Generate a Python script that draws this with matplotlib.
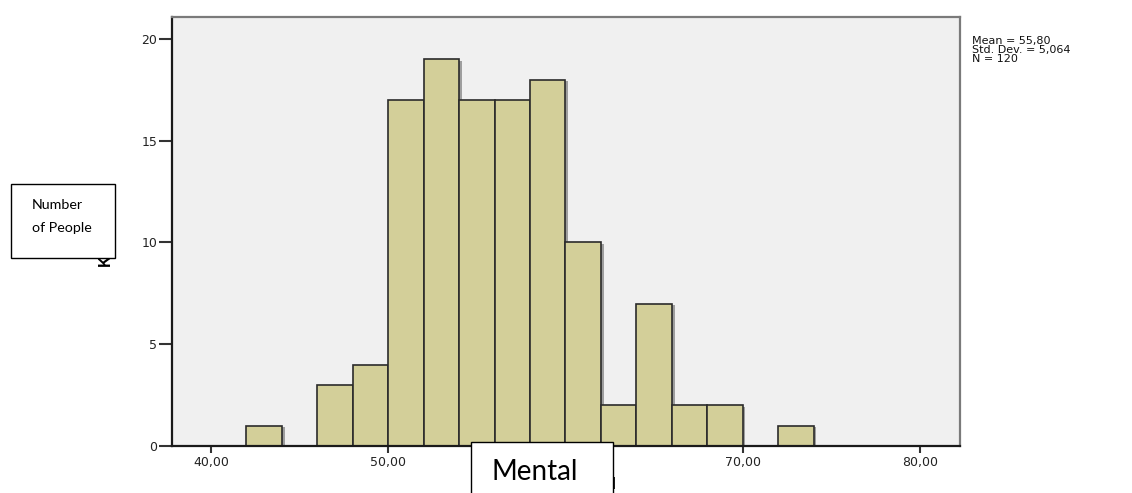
import matplotlib
matplotlib.use("Agg")
import numpy as np
import matplotlib.pyplot as plt
import matplotlib.patheffects as pe
from matplotlib.patches import Rectangle

# histogram bins (width 2) and counts per bin
bin_edges = [42, 44, 46, 48, 50, 52, 54, 56, 58, 60, 62, 64, 66, 68, 70, 72, 74]
counts = [1, 0, 3, 4, 17, 19, 17, 17, 18, 10, 2, 7, 2, 2, 0, 1]

x_ticks = [40, 50, 60, 70, 80]
x_tick_labels = ["40,00", "50,00", "60,00", "70,00", "80,00"]
y_ticks = [0, 5, 10, 15, 20]

stats_text = "Mean = 55,80\nStd. Dev. = 5,064\nN = 120"

W, H = 1132, 493
fig = plt.figure(figsize=(W / 100, H / 100), dpi=100)
fig.patch.set_facecolor("white")

def px(x, y):
    # pixel position (from top-left) -> figure fraction
    return x / W, 1 - y / H

ax = fig.add_axes([172 / W, (H - 446) / H, (960 - 172) / W, (446 - 17) / H])
ax.set_facecolor("#f0f0f0")

left = np.array(bin_edges[:-1], dtype=float)
widths = np.diff(bin_edges)
heights = np.array(counts, dtype=float)
keep = heights > 0
shadow = [pe.SimplePatchShadow(offset=(2, -1), shadow_rgbFace="0.3", alpha=0.5), pe.Normal()]
ax.bar(left[keep], heights[keep], width=widths[keep], align="edge",
       color="#d3cf99", edgecolor="#2b2b2b", linewidth=1.2,
       path_effects=shadow, zorder=2)

ax.set_xlim(37.8, 82.26)
ax.set_ylim(0, 21.08)
ax.set_xticks(x_ticks)
ax.set_xticklabels(x_tick_labels)
ax.set_yticks(y_ticks)

for s in ["left", "bottom"]:
    ax.spines[s].set_color("#1a1a1a")
    ax.spines[s].set_linewidth(1.6)
for s in ["top", "right"]:
    ax.spines[s].set_color("#7a7a7a")
    ax.spines[s].set_linewidth(1.6)

ax.tick_params(axis="x", direction="out", length=5, width=1.5, color="#333333",
               labelsize=9, labelcolor="#222222", pad=2)
ax.tick_params(axis="y", direction="out", length=9.5, width=1.5, color="#333333",
               labelsize=9, labelcolor="#222222", pad=1)
for lab in ax.get_xticklabels() + ax.get_yticklabels():
    lab.set_family("DejaVu Sans")

# axis titles (mostly covered by the text boxes below)
fig.text(*px(114, 267), "Kişi Sayısı", rotation=90, ha="right", va="bottom",
         family="Liberation Sans", fontweight="bold", fontsize=11.5, zorder=2)
fig.text(*px(617, 489), "Mental", ha="right", va="baseline",
         family="Liberation Sans", fontweight="bold", fontsize=11.5, zorder=2)

fig.text(*px(972, 36), stats_text, ha="left", va="top", family="DejaVu Sans",
         fontsize=8, linespacing=0.88, color="#111111")

# white annotation boxes
x0, y1 = px(11, 258)
x1, y0 = px(115, 184)
fig.add_artist(Rectangle((x0, y1), x1 - x0, y0 - y1, transform=fig.transFigure,
                         facecolor="white", edgecolor="black", linewidth=1, zorder=5))
fig.text(*px(32, 205), "Number", ha="left", va="center", family="Lato",
         fontsize=10.3, zorder=6)
fig.text(*px(32, 228), "of People", ha="left", va="center", family="Lato",
         fontsize=10.3, zorder=6)

x0, y1 = px(471, 510)
x1, y0 = px(613, 442)
fig.add_artist(Rectangle((x0, y1), x1 - x0, y0 - y1, transform=fig.transFigure,
                         facecolor="white", edgecolor="black", linewidth=1, zorder=5))
fig.text(*px(492, 472), "Mental", ha="left", va="center", family="Lato",
         fontsize=20, zorder=6)

fig.savefig("out.png", dpi=100)
